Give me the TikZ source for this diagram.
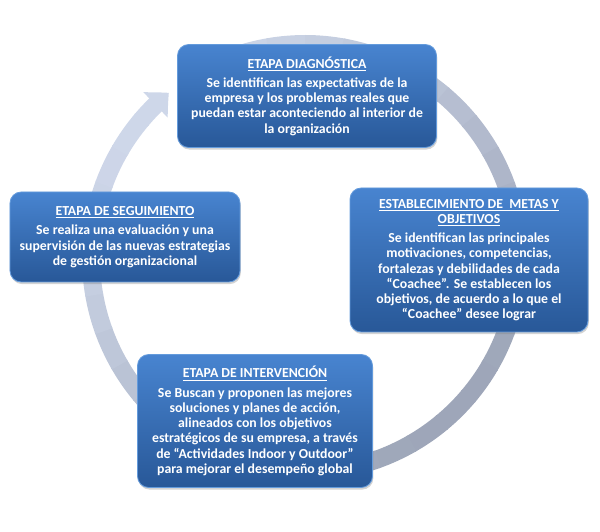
\documentclass[tikz,border=0pt]{standalone}
\usepackage{fontspec}
\setmainfont{Carlito}
\usetikzlibrary{arrows.meta,bending,shadows}
\definecolor{ringlight}{RGB}{206,215,233}
\definecolor{ringdark}{RGB}{158,166,185}
\definecolor{etapatop}{RGB}{72,132,208}
\definecolor{etapabottom}{RGB}{40,88,152}
\definecolor{etapaborde}{RGB}{100,155,220}
\tikzset{
  etapa/.style={rounded corners=8pt, draw=etapaborde, line width=0.6pt,
    top color=etapatop, bottom color=etapabottom, text=white,
    font=\bfseries\fontsize{9.8}{10.8}\selectfont, align=center, inner sep=2pt,
    drop shadow={shadow xshift=0.6pt, shadow yshift=-1.5pt, opacity=0.35}},
  ring/.style={line width=0.45cm}
}
\begin{document}
\begin{tikzpicture}
    \useasboundingbox (0,0) rectangle (15,13.3);
    % cycle arrow behind the stages
    \foreach \a in {120,110,...,-210}{
        \pgfmathsetmacro\m{50+50*cos(\a-5-135)}
        \draw[ring, ringlight!\m!ringdark] (7.625,6.85) ++(\a:5.35) arc (\a:\a-10.5:5.35);
    }
    \draw[ring, ringlight, -{Triangle[width=0.85cm,length=0.45cm,bend]}] (7.625,6.85) ++(-220:5.35) arc (-220:-230.5:5.35);
    % stages
    \node[etapa, minimum width=6.475cm, minimum height=2.575cm] (diagnostico) at (7.675,10.9)
        {\underline{ETAPA DIAGNÓSTICA}\\[3pt]
        Se identifican las expectativas de la\\
        empresa y los problemas reales que\\
        puedan estar aconteciendo al interior de\\
        la organización};
    \node[etapa, minimum width=5.95cm, minimum height=3.6cm] (metas) at (11.725,6.8)
        {\underline{ESTABLECIMIENTO DE\ \ METAS Y}\\
        \underline{OBJETIVOS}\\[3pt]
        Se identifican las principales\\
        motivaciones, competencias,\\
        fortalezas y debilidades de cada\\
        “Coachee”. Se establecen los\\
        objetivos, de acuerdo a lo que el\\
        “Coachee” desee lograr};
    \node[etapa, minimum width=5.75cm, minimum height=2.25cm] (seguimiento) at (3.125,7.375)
        {\underline{ETAPA DE SEGUIMIENTO}\\[3pt]
        Se realiza una evaluación y una\\
        supervisión de las nuevas estrategias\\
        de gestión organizacional};
    \node[etapa, minimum width=5.875cm, minimum height=3.325cm] (intervencion) at (6.375,2.775)
        {\underline{ETAPA DE INTERVENCIÓN}\\[3pt]
        Se Buscan y proponen las mejores\\
        soluciones y planes de acción,\\
        alineados con los objetivos\\
        estratégicos de su empresa, a través\\
        de “Actividades Indoor y Outdoor”\\
        para mejorar el desempeño global};
\end{tikzpicture}
\end{document}
